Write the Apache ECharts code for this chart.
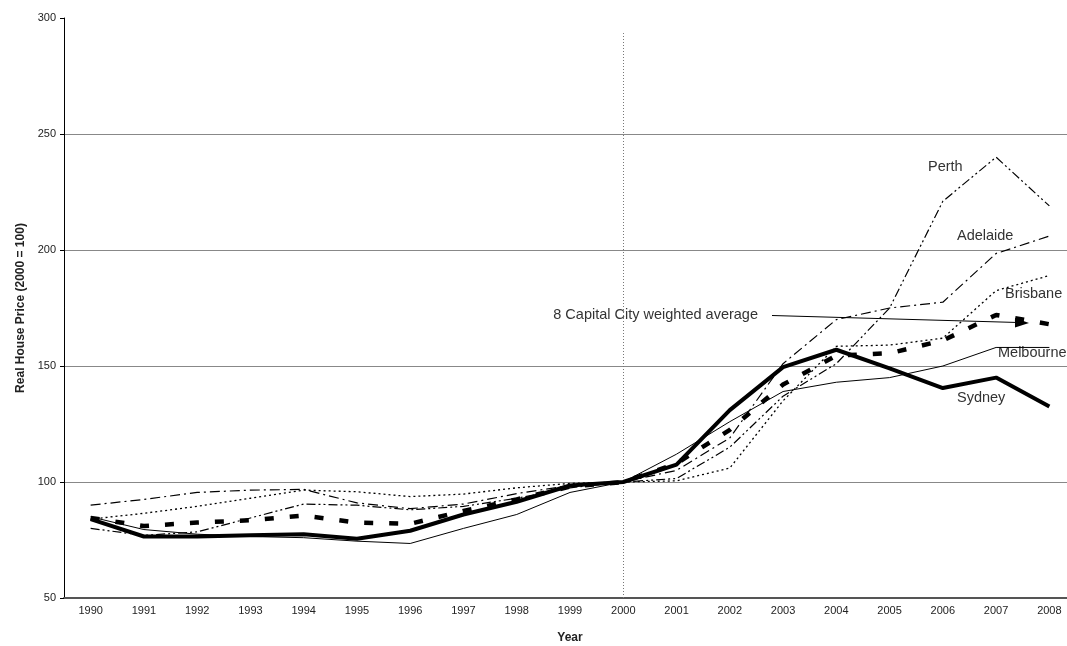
<!DOCTYPE html>
<html>
<head>
<meta charset="utf-8">
<script src="https://cdn.jsdelivr.net/npm/echarts@6/dist/echarts.min.js"></script>
<style>
html, body { margin: 0; padding: 0; background: #fff; }
#chart { width: 1067px; height: 646px; }
</style>
</head>
<body>
<div id="chart"></div>
<script>
// data (2000 = 100)
const years = ['1990', '1991', '1992', '1993', '1994', '1995', '1996', '1997', '1998', '1999',
               '2000', '2001', '2002', '2003', '2004', '2005', '2006', '2007', '2008'];
const sydney    = [84, 76.5, 76.5, 77, 77.5, 75.5, 79, 86, 91.5, 98.5, 100, 107.5, 131, 149.5, 157, 149, 140.5, 145, 132.5];
const melbourne = [85, 79.5, 77.5, 76.5, 76, 74.5, 73.5, 80, 86, 95.5, 100, 112, 126, 139, 143, 145, 150, 158, 158];
const brisbane  = [84, 86.5, 89.5, 93, 96.5, 95.8, 93.7, 94.8, 97.5, 99.4, 100, 100.5, 106, 135, 158.5, 159, 162, 182.5, 189];
const adelaide  = [90, 92.5, 95.5, 96.5, 96.8, 91, 88.5, 90.5, 95, 98.5, 100, 105, 119, 151, 170, 175, 177.5, 198.5, 206];
const perth     = [80, 77, 78.5, 84.5, 90.5, 90, 88, 89.5, 93, 97.5, 100, 101.5, 115, 137, 151, 175, 221, 240, 219];
const average   = [84.5, 81, 82.5, 83.5, 85.5, 82.5, 82, 87.5, 92.5, 98, 100, 108, 122.5, 142, 154.5, 155.5, 161, 172, 168];
const yTicks = { min: 50, max: 300, step: 50 };
const baseYear = '2000';

const font = 'Arial, "Liberation Sans", sans-serif';
const chart = echarts.init(document.getElementById('chart'));

function cityLine(name, data, width, dash, z) {
    return {
        name: name,
        type: 'line',
        data: data,
        symbol: 'none',
        z: z,
        lineStyle: { color: '#000', width: width, type: dash },
        emphasis: { disabled: true }
    };
}

function note(text, x, y, align) {
    return {
        type: 'text',
        x: x, y: y,
        silent: true,
        style: {
            text: text, x: 0, y: 0,
            font: '14.5px ' + font,
            fill: '#333',
            align: align, textAlign: align,
            verticalAlign: 'middle', textVerticalAlign: 'middle'
        }
    };
}

const sydneySeries = cityLine('Sydney', sydney, 4, 'solid', 10);
sydneySeries.markLine = {
    silent: true,
    symbol: ['none', 'none'],
    label: { show: false },
    lineStyle: { color: '#777', width: 1, type: [1, 2] },
    data: [[{ coord: [baseYear, 50] }, { coord: [baseYear, 293.5] }]]
};

// the plot runs past the right edge of the picture, as in the original
chart.setOption({
    animation: false,
    backgroundColor: '#fff',
    grid: { left: 64, right: -9, top: 18, bottom: 48, outerBoundsMode: 'none', containLabel: false },
    xAxis: {
        type: 'category',
        data: years,
        boundaryGap: true,
        name: 'Year',
        nameLocation: 'middle',
        nameGap: 34,
        nameTextStyle: { fontFamily: font, fontWeight: 'bold', fontSize: 12, color: '#222' },
        axisLine: { lineStyle: { color: '#555', width: 2 } },
        axisTick: { length: 5, lineStyle: { color: '#333' } },
        axisLabel: { interval: 0, fontFamily: font, fontSize: 11, color: '#222', margin: 7 },
        splitLine: { show: false }
    },
    yAxis: {
        type: 'value',
        min: yTicks.min,
        max: yTicks.max,
        interval: yTicks.step,
        name: 'Real House Price (2000 = 100)',
        nameLocation: 'middle',
        nameGap: 34,
        nameTextStyle: { fontFamily: font, fontWeight: 'bold', fontSize: 12, color: '#222' },
        axisLine: { show: true, lineStyle: { color: '#000', width: 1 } },
        axisTick: { show: true, length: 4, lineStyle: { color: '#000' } },
        axisLabel: { fontFamily: font, fontSize: 11, color: '#222', margin: 8 },
        splitLine: { show: true, showMaxLine: false, lineStyle: { color: '#888', width: 1 } }
    },
    series: [
        cityLine('Perth', perth, 1.2, [9, 3, 2, 3, 2, 3], 3),
        cityLine('Adelaide', adelaide, 1.2, [10, 4, 2, 4], 4),
        cityLine('Brisbane', brisbane, 1.3, [2, 3], 5),
        cityLine('Melbourne', melbourne, 1, 'solid', 6),
        cityLine('8 Capital City weighted average', average, 4.5, [9, 16], 7),
        sydneySeries
    ],
    graphic: [
        note('Perth', 928, 167, 'left'),
        note('Adelaide', 957, 236, 'left'),
        note('Brisbane', 1005, 294, 'left'),
        note('Melbourne', 998, 353, 'left'),
        note('Sydney', 957, 398, 'left'),
        note('8 Capital City weighted average', 758, 315, 'right'),
        {
            type: 'line',
            silent: true,
            shape: { x1: 772, y1: 315.5, x2: 1018, y2: 322.5 },
            style: { stroke: '#000', lineWidth: 1 }
        },
        {
            type: 'polygon',
            silent: true,
            shape: { points: [[1015, 318], [1029, 323], [1015, 327.5]] },
            style: { fill: '#000' }
        }
    ]
});
</script>
</body>
</html>
